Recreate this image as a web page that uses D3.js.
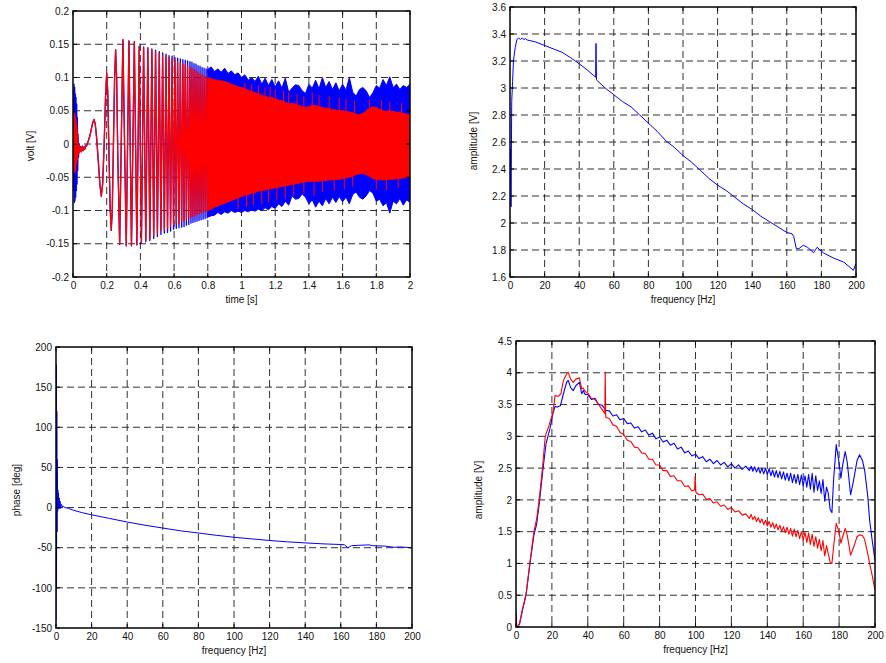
<!DOCTYPE html>
<html>
<head>
<meta charset="utf-8">
<script src="https://cdn.jsdelivr.net/npm/d3@7"></script>
<style>
  body { margin: 0; background: #fff; }
  svg { display: block; font-family: "Liberation Sans", Arial, sans-serif; }
</style>
</head>
<body>
<svg id="chart"></svg>
<script>
// ---------- tick labels ----------
const timeTicks = [0, 0.2, 0.4, 0.6, 0.8, 1, 1.2, 1.4, 1.6, 1.8, 2];
const voltTicks = [-0.2, -0.15, -0.1, -0.05, 0, 0.05, 0.1, 0.15, 0.2];
const freqTicks = [0, 20, 40, 60, 80, 100, 120, 140, 160, 180, 200];
const ampTicksTR = [1.6, 1.8, 2, 2.2, 2.4, 2.6, 2.8, 3, 3.2, 3.4, 3.6];
const phaseTicks = [-150, -100, -50, 0, 50, 100, 150, 200];
const ampTicksBR = [0, 0.5, 1, 1.5, 2, 2.5, 3, 3.5, 4, 4.5];

// ---------- top left: time signal (volt) ----------
const earlyT = [0, 0.002, 0.004, 0.006, 0.008, 0.010, 0.012, 0.014, 0.016, 0.018, 0.020, 0.022, 0.024, 0.026, 0.028, 0.030, 0.033, 0.036,
  0.04, 0.045, 0.05, 0.055, 0.06, 0.065, 0.07, 0.075, 0.08, 0.09, 0.1, 0.11, 0.118, 0.125, 0.132, 0.14, 0.15, 0.16, 0.168, 0.176,
  0.185, 0.193, 0.2, 0.206, 0.214, 0.221, 0.227, 0.233, 0.24, 0.247, 0.253, 0.259, 0.266];
const earlyBlue = [0.03, 0.08, -0.07, 0.09, -0.088, 0.085, -0.085, 0.075, -0.08, 0.07, -0.07, 0.06, -0.06, 0.04, -0.04, 0.015, -0.02, 0.0,
  -0.012, -0.004, -0.012, -0.003, -0.01, -0.004, -0.008, -0.002, -0.003, 0.004, 0.012, 0.024, 0.033, 0.037, 0.03, 0.01, -0.025, -0.062, -0.078, -0.06,
  0.0, 0.07, 0.106, 0.08, -0.02, -0.1, -0.13, -0.1, 0.0, 0.1, 0.142, 0.1, -0.02];
const earlyRed = [0.0, 0.04, -0.035, 0.046, -0.043, 0.045, -0.04, 0.04, -0.04, 0.035, -0.03, 0.03, -0.025, 0.018, -0.02, 0.005, -0.015, -0.002,
  -0.012, -0.005, -0.011, -0.004, -0.01, -0.005, -0.008, -0.002, -0.003, 0.004, 0.012, 0.024, 0.033, 0.037, 0.03, 0.01, -0.025, -0.062, -0.079, -0.06,
  0.0, 0.07, 0.107, 0.08, -0.02, -0.1, -0.129, -0.1, 0.0, 0.1, 0.141, 0.1, -0.02];

// extrema of the chirp (alternating troughs and peaks)
const chirpT = [0.277, 0.296, 0.316, 0.332, 0.347, 0.364, 0.379, 0.393, 0.406, 0.419, 0.432, 0.444, 0.456, 0.468, 0.479, 0.490,
  0.501, 0.512, 0.522, 0.532, 0.542, 0.552, 0.561, 0.570, 0.579, 0.588, 0.597, 0.605, 0.613, 0.621, 0.629, 0.637, 0.645, 0.652,
  0.659, 0.666, 0.673, 0.680, 0.687, 0.694, 0.700, 0.706, 0.712, 0.718, 0.724, 0.730, 0.736, 0.742, 0.748, 0.754, 0.760, 0.766,
  0.772, 0.778, 0.784, 0.790, 0.796, 0.802];
const chirpRed = [-0.150, 0.157, -0.153, 0.155, -0.153, 0.154, -0.151, 0.146, -0.148, 0.145, -0.145, 0.143, -0.142, 0.141, -0.138, 0.139,
  -0.134, 0.136, -0.131, 0.134, -0.129, 0.132, -0.127, 0.13, -0.124, 0.128, -0.121, 0.126, -0.12, 0.124, -0.119, 0.122, -0.117, 0.121,
  -0.116, 0.119, -0.114, 0.118, -0.112, 0.116, -0.11, 0.114, -0.109, 0.112, -0.108, 0.11, -0.106, 0.108, -0.105, 0.106, -0.104, 0.104,
  -0.103, 0.103, -0.102, 0.101, -0.101, 0.1];
const chirpBlue = [-0.151, 0.157, -0.153, 0.155, -0.153, 0.154, -0.152, 0.147, -0.149, 0.146, -0.147, 0.145, -0.145, 0.143, -0.142, 0.141,
  -0.139, 0.139, -0.136, 0.137, -0.134, 0.135, -0.133, 0.133, -0.131, 0.132, -0.128, 0.13, -0.127, 0.129, -0.126, 0.128, -0.125, 0.127,
  -0.124, 0.126, -0.122, 0.125, -0.121, 0.124, -0.119, 0.123, -0.118, 0.121, -0.117, 0.12, -0.116, 0.118, -0.115, 0.117, -0.114, 0.115,
  -0.113, 0.114, -0.112, 0.113, -0.111, 0.112];

// envelopes of the dense part, sampled from 0.80 s every 0.02 s
const bandStart = 0.8, bandStep = 0.02;
const blueHi = [0.112, 0.116, 0.109, 0.113, 0.108, 0.114, 0.106, 0.11, 0.104, 0.107, 0.1, 0.104, 0.096, 0.1, 0.094, 0.102, 0.09, 0.099,
  0.088, 0.097, 0.086, 0.095, 0.084, 0.099, 0.078, 0.084, 0.089, 0.088, 0.08, 0.076, 0.09, 0.084, 0.096, 0.083, 0.1, 0.085, 0.094,
  0.082, 0.092, 0.08, 0.09, 0.081, 0.1, 0.078, 0.072, 0.082, 0.085, 0.08, 0.07, 0.077, 0.088, 0.084, 0.097, 0.088, 0.101, 0.085,
  0.09, 0.082, 0.088, 0.085, 0.09];
const blueLo = [-0.11, -0.108, -0.107, -0.103, -0.106, -0.102, -0.104, -0.1, -0.103, -0.101, -0.103, -0.1, -0.102, -0.099, -0.101, -0.098,
  -0.1, -0.096, -0.099, -0.094, -0.097, -0.09, -0.094, -0.086, -0.092, -0.078, -0.083, -0.082, -0.075, -0.08, -0.09, -0.084, -0.095,
  -0.086, -0.093, -0.082, -0.09, -0.08, -0.088, -0.079, -0.087, -0.08, -0.09, -0.076, -0.072, -0.08, -0.083, -0.078, -0.07, -0.074,
  -0.086, -0.083, -0.093, -0.088, -0.104, -0.086, -0.09, -0.082, -0.092, -0.084, -0.088];
const redHi = [0.1, 0.098, 0.097, 0.095, 0.095, 0.094, 0.092, 0.09, 0.088, 0.086, 0.085, 0.083, 0.081, 0.079, 0.077, 0.076, 0.073, 0.072,
  0.07, 0.07, 0.068, 0.066, 0.065, 0.063, 0.06, 0.061, 0.06, 0.058, 0.056, 0.055, 0.056, 0.058, 0.058, 0.056, 0.055, 0.054, 0.053,
  0.052, 0.051, 0.05, 0.05, 0.049, 0.048, 0.047, 0.045, 0.044, 0.046, 0.05, 0.053, 0.056, 0.055, 0.052, 0.05, 0.049, 0.05, 0.049,
  0.048, 0.047, 0.046, 0.045, 0.044];
const redLo = [-0.1, -0.098, -0.095, -0.093, -0.091, -0.089, -0.087, -0.085, -0.083, -0.081, -0.079, -0.077, -0.076, -0.074, -0.073, -0.071,
  -0.07, -0.069, -0.068, -0.067, -0.066, -0.065, -0.064, -0.063, -0.062, -0.061, -0.06, -0.059, -0.058, -0.057, -0.056, -0.056, -0.056,
  -0.056, -0.055, -0.055, -0.054, -0.054, -0.053, -0.053, -0.052, -0.051, -0.05, -0.048, -0.046, -0.045, -0.044, -0.046, -0.049,
  -0.052, -0.053, -0.054, -0.054, -0.054, -0.053, -0.053, -0.052, -0.052, -0.051, -0.05, -0.05];
// isolated red spikes sticking out of the red band
const redSpikeT = [0.98, 1.02, 1.03, 1.06, 1.07, 1.1, 1.12, 1.14, 1.16, 1.17, 1.2, 1.21, 1.25, 1.26, 1.28, 1.31, 1.33, 1.37, 1.37,
  1.42, 1.43, 1.46, 1.48, 1.52, 1.55, 1.58, 1.61, 1.62, 1.66, 1.67, 1.76, 1.8, 1.83, 1.86, 1.88, 1.93, 1.95];
const redSpikeV = [-0.098, 0.092, -0.095, 0.09, -0.092, 0.088, -0.09, 0.085, -0.088, 0.086, 0.082, -0.085, 0.08, -0.082, 0.078, -0.078,
  0.075, 0.072, -0.075, 0.078, -0.078, 0.074, -0.072, 0.072, -0.07, 0.07, -0.068, 0.068, -0.064, 0.065, 0.066, -0.068, 0.066, -0.07,
  0.064, -0.066, 0.062];

// ---------- top right: amplitude spectrum [frequency Hz, amplitude] ----------
const trAmp = [[0.3, 2.55], [0.6, 2.12], [1, 2.9], [1.5, 3.05], [2, 3.2], [3, 3.3], [4, 3.36], [5, 3.37], [6, 3.36], [7, 3.37], [8, 3.36],
  [9, 3.365], [10, 3.355], [12, 3.35], [15, 3.34], [20, 3.315], [25, 3.29], [30, 3.265], [35, 3.225], [40, 3.18], [45, 3.13],
  [49.5, 3.08], [49.7, 3.33], [50, 3.06], [55, 3.0], [60, 2.95], [65, 2.9], [70, 2.86], [75, 2.8], [80, 2.74], [85, 2.68], [90, 2.61],
  [95, 2.56], [100, 2.5], [105, 2.45], [110, 2.39], [115, 2.33], [120, 2.28], [125, 2.24], [130, 2.19], [135, 2.14], [140, 2.1],
  [145, 2.05], [150, 2.01], [155, 1.97], [160, 1.93], [163, 1.92], [164, 1.9], [165.5, 1.81], [167, 1.81], [169.5, 1.835],
  [172, 1.82], [175.5, 1.78], [177.5, 1.82], [181, 1.78], [187, 1.74], [193, 1.71], [198.5, 1.65], [200, 1.7]];

// ---------- bottom left: phase spectrum [frequency Hz, degrees] ----------
const blPhase = [[0, -140], [0.15, 178], [0.3, -100], [0.45, 120], [0.6, -30], [0.75, 60], [0.9, -5], [1.05, 22], [1.2, 0], [1.4, 18],
  [1.6, -2], [1.8, 12], [2.0, 0], [2.3, 8], [2.6, -1], [3.0, 4], [3.5, 1], [4, 2], [5, 0], [7, -1], [10, -3.5], [15, -6.5], [20, -9],
  [30, -13.5], [40, -18], [50, -22], [60, -25.5], [70, -29], [80, -31.7], [90, -34.5], [100, -37], [110, -39], [120, -41],
  [130, -42.7], [140, -44], [150, -45.2], [160, -46], [162, -46.3], [164, -50], [166, -47.5], [170, -47], [176, -46.5],
  [178, -47.5], [185, -48], [190, -49.5], [193, -49], [200, -50]];

// ---------- bottom right: two amplitude spectra [frequency Hz, amplitude] ----------
const brBlue = [[0, 0], [1, 0.01], [2, 0.05], [3.5, 0.25], [5.6, 0.5], [7.8, 1.0], [10, 1.45], [11.5, 1.62], [13, 1.95], [14.9, 2.45],
  [16.7, 2.88], [18.9, 3.12], [20.5, 3.35], [21.7, 3.47], [23, 3.46], [24.7, 3.48], [26.4, 3.67], [28.2, 3.85], [29.1, 3.88],
  [30.4, 3.77], [31.9, 3.72], [33.4, 3.8], [35.3, 3.85], [36.6, 3.67], [37.5, 3.72], [38.4, 3.66], [40, 3.66],
  [42, 3.58], [44, 3.6], [46, 3.5], [48, 3.49], [50, 3.41], [52, 3.4], [54, 3.32], [56, 3.34], [58, 3.26], [60, 3.28], [62, 3.2],
  [64, 3.21], [66, 3.13], [68, 3.15], [70, 3.07], [72, 3.1], [74, 3.02], [76, 3.05], [78, 2.96], [80, 2.99], [82, 2.91], [84, 2.94],
  [86, 2.86], [88, 2.89], [90, 2.8], [92, 2.83], [94, 2.74], [96, 2.77], [98, 2.69], [100, 2.72], [102, 2.65], [104, 2.68], [106, 2.6],
  [108, 2.64], [110, 2.57], [112, 2.62], [114, 2.55], [116, 2.59], [118, 2.52], [120, 2.57], [122, 2.5], [124, 2.55], [126, 2.48],
  [128, 2.53], [130, 2.46], [131, 2.53], [132, 2.45], [133, 2.52], [134, 2.44], [135, 2.51], [136, 2.42], [137, 2.5], [138, 2.41],
  [139, 2.5], [140, 2.4], [141, 2.49], [142, 2.38], [143, 2.47], [144, 2.36], [145, 2.46], [146, 2.35], [147, 2.45], [148, 2.33],
  [149, 2.44], [150, 2.31], [151, 2.42], [152, 2.3], [153, 2.42], [154, 2.27], [155, 2.4], [156, 2.26], [157, 2.4], [158, 2.24],
  [159, 2.39], [160, 2.22], [161, 2.38], [162, 2.2], [163, 2.4], [164, 2.17], [165, 2.42], [166, 2.12], [167, 2.38], [168, 2.15],
  [169, 2.3], [170, 2.1], [171, 2.32], [172, 1.98], [173, 2.2], [174, 2.1], [175, 1.85], [176, 1.8], [176.9, 2.3], [178.4, 2.87],
  [179.9, 2.6], [181, 2.34], [182, 2.55], [183.4, 2.76], [184.5, 2.6], [186.4, 2.08], [188, 2.3], [190, 2.62], [191.4, 2.71],
  [193, 2.62], [194.2, 2.47], [196, 2.05], [197, 1.68], [198.5, 1.35], [200, 1.05]];
const brRed = [[0, 0.25], [0.4, 0.02], [1, 0.0], [2, 0.06], [3.5, 0.27], [5.6, 0.52], [7.8, 1.03], [10, 1.5], [11.5, 1.7], [13, 2.02],
  [14.9, 2.55], [16.3, 3.0], [18.5, 3.18], [20.8, 3.4], [21.7, 3.64], [23.6, 3.63], [25, 3.67], [26.4, 3.88], [28.2, 3.98],
  [29.1, 4.01], [30.4, 3.9], [31.9, 3.85], [33.4, 3.9], [35.3, 3.92], [36.6, 3.75], [37.5, 3.76], [38.4, 3.71], [40, 3.68],
  [42, 3.6], [44, 3.58], [46, 3.5], [48, 3.42], [49.5, 3.36], [49.7, 4.01], [50, 3.3], [52, 3.28], [54, 3.18], [56, 3.16], [58, 3.06],
  [60, 3.03], [62, 2.94], [64, 2.92], [66, 2.83], [68, 2.82], [70, 2.74], [72, 2.73], [74, 2.64], [76, 2.64], [78, 2.55], [80, 2.55],
  [82, 2.46], [84, 2.46], [86, 2.37], [88, 2.38], [90, 2.3], [92, 2.3], [94, 2.21], [96, 2.22], [98, 2.14], [99.5, 2.16], [99.8, 2.37],
  [100.2, 2.12], [102, 2.08], [104, 2.09], [106, 2.01], [108, 2.02], [110, 1.95], [112, 1.97], [114, 1.9], [116, 1.92], [118, 1.85],
  [120, 1.88], [122, 1.81], [124, 1.83], [126, 1.76], [128, 1.78], [130, 1.71], [131, 1.77], [132, 1.69], [133, 1.74], [134, 1.66],
  [135, 1.72], [136, 1.64], [137, 1.7], [138, 1.61], [139, 1.68], [140, 1.59], [141, 1.66], [142, 1.57], [143, 1.64], [144, 1.55],
  [145, 1.62], [146, 1.53], [147, 1.6], [148, 1.5], [149, 1.58], [150, 1.48], [151, 1.57], [152, 1.46], [153, 1.55], [154, 1.43],
  [155, 1.54], [156, 1.42], [157, 1.52], [158, 1.39], [159, 1.5], [160, 1.37], [161, 1.49], [162, 1.33], [163, 1.48], [164, 1.3],
  [165, 1.46], [166, 1.27], [167, 1.42], [168, 1.24], [169, 1.38], [170, 1.2], [171, 1.36], [172, 1.12], [173, 1.28], [174, 1.15],
  [175, 1.02], [176, 1.0], [176.9, 1.25], [178.4, 1.63], [179.9, 1.5], [181, 1.32], [182, 1.42], [183.4, 1.55], [184.5, 1.45],
  [186.4, 1.13], [188, 1.25], [190, 1.42], [191.4, 1.45], [193, 1.44], [194.2, 1.38], [196, 1.15], [197, 1.0], [198.5, 0.8], [200, 0.58]];

const BLUE = '#0000ff', RED = '#ff0000';
const fmtTick = v => String(+v.toFixed(2));

class PlotPanel {

  /**
   * One MATLAB-like axes box with dashed grid
   */
  constructor(_config) {
    this.config = {
      parentElement: _config.parentElement,
      id: _config.id,
      left: _config.left,
      top: _config.top,
      width: _config.width,
      height: _config.height,
      xDomain: _config.xDomain,
      yDomain: _config.yDomain,
      xTicks: _config.xTicks,
      yTicks: _config.yTicks,
      xTitle: _config.xTitle,
      yTitle: _config.yTitle,
      yTitlePos: _config.yTitlePos
    }
    this.initVis();
  }

  initVis() {
    let vis = this;
    const c = vis.config;

    vis.xScale = d3.scaleLinear().domain(c.xDomain).range([0, c.width]);
    vis.yScale = d3.scaleLinear().domain(c.yDomain).range([c.height, 0]);

    vis.g = d3.select(c.parentElement).append('g')
        .attr('transform', `translate(${c.left},${c.top})`);

    vis.g.append('clipPath').attr('id', c.id + '-clip')
      .append('rect').attr('width', c.width).attr('height', c.height);

    // dashed grid below the data
    const grid = vis.g.append('g')
        .attr('stroke', '#1a1a1a')
        .attr('stroke-width', 0.9)
        .attr('stroke-dasharray', '7,4');
    grid.selectAll('.vgrid')
      .data(c.xTicks.slice(1, -1))
      .join('line')
        .attr('x1', d => vis.xScale(d)).attr('x2', d => vis.xScale(d))
        .attr('y1', 0).attr('y2', c.height);
    grid.selectAll('.hgrid')
      .data(c.yTicks.slice(1, -1))
      .join('line')
        .attr('x1', 0).attr('x2', c.width)
        .attr('y1', d => vis.yScale(d)).attr('y2', d => vis.yScale(d));

    vis.chart = vis.g.append('g').attr('clip-path', `url(#${c.id}-clip)`);
  }

  addLine(data, color, width, curve) {
    let vis = this;
    const line = d3.line()
        .x(d => vis.xScale(d[0]))
        .y(d => vis.yScale(d[1]))
        .curve(curve || d3.curveLinear);
    vis.chart.append('path')
        .datum(data)
        .attr('d', line)
        .attr('fill', 'none')
        .attr('stroke', color)
        .attr('stroke-width', width)
        .attr('stroke-linejoin', 'round');
  }

  addBand(data, color) {
    let vis = this;
    const area = d3.area()
        .x(d => vis.xScale(d.t))
        .y0(d => vis.yScale(d.lo))
        .y1(d => vis.yScale(d.hi));
    vis.chart.append('path')
        .datum(data)
        .attr('d', area)
        .attr('fill', color)
        .attr('stroke', color)
        .attr('stroke-width', 1);
  }

  addSpikes(data, color) {
    let vis = this;
    vis.chart.append('g').selectAll('line')
      .data(data)
      .join('line')
        .attr('x1', d => vis.xScale(d[0])).attr('x2', d => vis.xScale(d[0]))
        .attr('y1', vis.yScale(0)).attr('y2', d => vis.yScale(d[1]))
        .attr('stroke', color)
        .attr('stroke-width', 1);
  }

  renderFrame() {
    let vis = this;
    const c = vis.config;

    const xAxis = d3.axisBottom(vis.xScale)
        .tickValues(c.xTicks).tickSize(0).tickPadding(5).tickFormat(fmtTick);
    const yAxis = d3.axisLeft(vis.yScale)
        .tickValues(c.yTicks).tickSize(0).tickPadding(4).tickFormat(fmtTick);

    const xg = vis.g.append('g')
        .attr('transform', `translate(0,${c.height})`)
        .call(xAxis);
    const yg = vis.g.append('g').call(yAxis);
    [xg, yg].forEach(a => {
      a.select('.domain').remove();
      a.selectAll('text')
          .attr('font-size', 10)
          .attr('font-family', '"Liberation Sans", Arial, sans-serif')
          .attr('fill', '#111');
    });

    // small inward ticks on all four sides
    const ticks = vis.g.append('g').attr('stroke', '#000').attr('stroke-width', 1);
    c.xTicks.forEach(v => {
      const x = vis.xScale(v);
      ticks.append('line').attr('x1', x).attr('x2', x).attr('y1', c.height).attr('y2', c.height - 4);
      ticks.append('line').attr('x1', x).attr('x2', x).attr('y1', 0).attr('y2', 4);
    });
    c.yTicks.forEach(v => {
      const y = vis.yScale(v);
      ticks.append('line').attr('x1', 0).attr('x2', 4).attr('y1', y).attr('y2', y);
      ticks.append('line').attr('x1', c.width).attr('x2', c.width - 4).attr('y1', y).attr('y2', y);
    });

    // axes box
    vis.g.append('rect')
        .attr('width', c.width)
        .attr('height', c.height)
        .attr('fill', 'none')
        .attr('stroke', '#000')
        .attr('stroke-width', 1.5);

    vis.g.append('text')
        .attr('x', c.width / 2)
        .attr('y', c.height + 26)
        .attr('text-anchor', 'middle')
        .attr('font-size', 10)
        .attr('fill', '#111')
        .text(c.xTitle);

    vis.g.append('text')
        .attr('transform', `translate(${c.yTitlePos[0] - c.left},${c.yTitlePos[1] - c.top}) rotate(-90)`)
        .attr('dy', '0.35em')
        .attr('text-anchor', 'middle')
        .attr('font-size', 10)
        .attr('fill', '#111')
        .text(c.yTitle);
  }
}

const svg = d3.select('#chart').attr('width', 886).attr('height', 663);

// ---------- top left ----------
const tl = new PlotPanel({
  parentElement: '#chart', id: 'tl',
  left: 73, top: 11, width: 337, height: 266,
  xDomain: [0, 2], yDomain: [-0.2, 0.2],
  xTicks: timeTicks, yTicks: voltTicks,
  xTitle: 'time [s]', yTitle: 'volt [V]', yTitlePos: [30, 146]
});
const bluePath = earlyT.map((t, i) => [t, earlyBlue[i]]).concat(chirpT.map((t, i) => [t, chirpBlue[i]]));
const redPath = earlyT.map((t, i) => [t, earlyRed[i]]).concat(chirpT.map((t, i) => [t, chirpRed[i]]));
const blueBand = blueHi.map((h, i) => ({t: bandStart + i * bandStep, hi: h, lo: blueLo[i]}));
const redBand = redHi.map((h, i) => ({t: bandStart + i * bandStep, hi: h, lo: redLo[i]}));
tl.addLine(bluePath, BLUE, 1.3);
tl.addBand(blueBand, BLUE);
tl.addLine(redPath, RED, 1.3);
tl.addBand(redBand, RED);
tl.addSpikes(redSpikeT.map((t, i) => [t, redSpikeV[i]]), RED);
tl.renderFrame();

// ---------- top right ----------
const tr = new PlotPanel({
  parentElement: '#chart', id: 'tr',
  left: 510, top: 7, width: 346, height: 270,
  xDomain: [0, 200], yDomain: [1.6, 3.6],
  xTicks: freqTicks, yTicks: ampTicksTR,
  xTitle: 'frequency [Hz]', yTitle: 'amplitude [V]', yTitlePos: [473, 141]
});
tr.addLine(trAmp, BLUE, 1);
tr.renderFrame();

// ---------- bottom left ----------
const bl = new PlotPanel({
  parentElement: '#chart', id: 'bl',
  left: 56, top: 347, width: 356, height: 281,
  xDomain: [0, 200], yDomain: [-150, 200],
  xTicks: freqTicks, yTicks: phaseTicks,
  xTitle: 'frequency [Hz]', yTitle: 'phase [deg]', yTitlePos: [16, 490]
});
bl.addLine(blPhase, BLUE, 1);
bl.renderFrame();

// ---------- bottom right ----------
const br = new PlotPanel({
  parentElement: '#chart', id: 'br',
  left: 516, top: 341, width: 359, height: 286,
  xDomain: [0, 200], yDomain: [0, 4.5],
  xTicks: freqTicks, yTicks: ampTicksBR,
  xTitle: 'frequency [Hz]', yTitle: 'amplitude [V]', yTitlePos: [478, 490]
});
br.addLine(brBlue, BLUE, 1.1);
br.addLine(brRed, RED, 1.1);
br.renderFrame();
</script>
</body>
</html>
